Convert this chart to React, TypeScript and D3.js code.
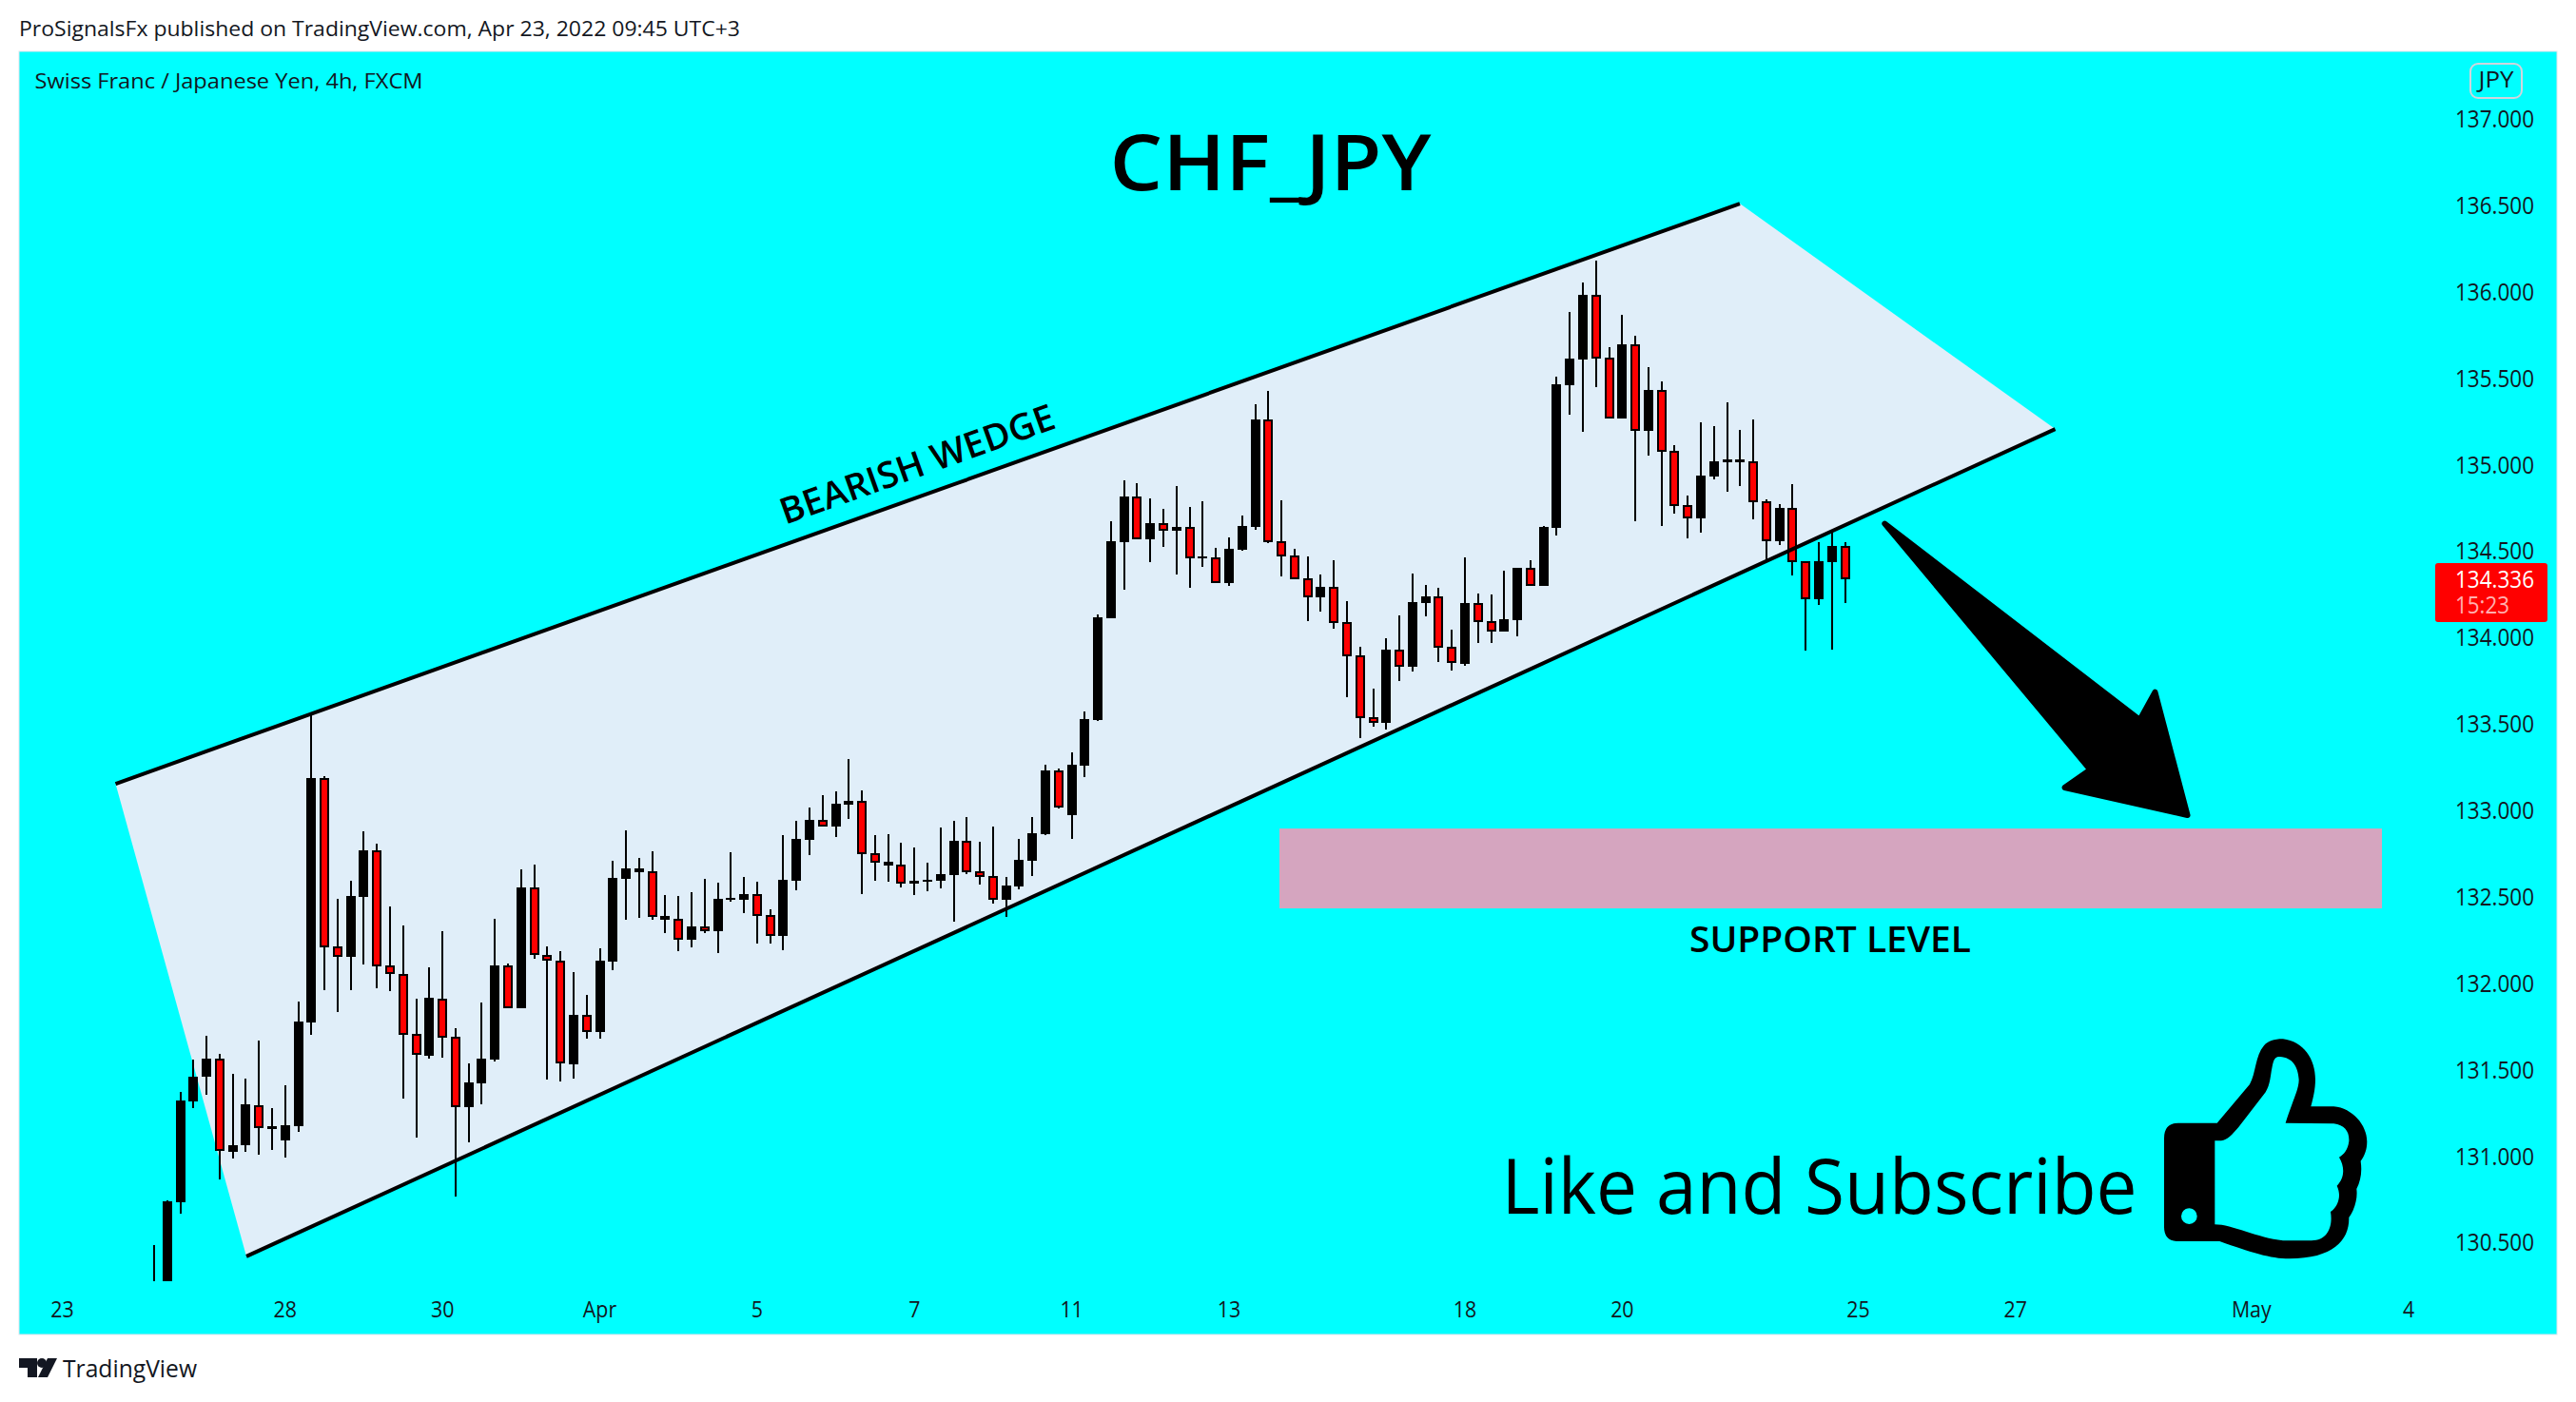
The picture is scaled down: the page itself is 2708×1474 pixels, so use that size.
import React from "react";
import * as d3 from "d3";

const W = 2708, H = 1474;
const opens = [130.05,130.2,130.734,131.319,131.457,131.562,131.025,131.061,131.297,131.159,131.09,131.173,131.772,133.185,132.211,132.151,132.5,132.767,132.101,132.056,131.705,131.581,131.913,131.689,131.283,131.421,131.557,132.101,131.856,132.552,132.161,132.132,131.531,131.815,131.717,132.125,132.603,132.642,132.647,132.367,132.372,132.251,132.328,132.301,132.481,132.482,132.515,132.394,132.273,132.592,132.829,132.945,132.906,133.033,133.055,132.752,132.68,132.686,132.576,132.587,132.592,132.625,132.824,132.647,132.62,132.482,132.559,132.708,132.862,133.231,132.972,133.258,133.523,134.111,134.552,134.816,134.568,134.662,134.618,134.64,134.456,134.464,134.315,134.508,134.64,135.261,134.557,134.475,134.343,134.233,134.293,134.089,133.897,133.539,133.506,133.93,133.831,134.199,134.238,133.946,133.847,134.199,134.095,134.034,134.1,134.403,134.298,134.634,135.459,135.608,135.982,135.619,135.267,135.696,135.195,135.432,135.08,134.766,134.689,134.931,135.014,135.014,135.019,134.788,134.557,134.749,134.441,134.221,134.436,134.529];
const highs = [130.484,130.746,131.371,131.557,131.696,131.591,131.476,131.448,131.667,131.278,131.409,131.894,133.569,133.199,132.488,132.593,132.879,132.808,132.445,132.333,131.91,132.092,132.302,131.739,131.536,131.889,132.373,132.113,132.66,132.686,132.214,132.185,132.066,131.932,132.202,132.707,132.884,132.724,132.763,132.51,132.504,132.526,132.603,132.581,132.758,132.614,132.587,132.427,132.857,132.939,133.016,133.088,133.11,133.297,133.115,132.857,132.862,132.813,132.785,132.697,132.901,132.939,132.961,132.818,132.906,132.614,132.835,132.961,133.264,133.242,133.335,133.572,134.133,134.673,134.909,134.893,134.805,134.744,134.876,134.755,134.788,134.519,134.579,134.706,135.349,135.426,134.794,134.513,134.469,134.365,134.447,134.211,133.946,133.704,133.996,134.128,134.37,134.304,134.288,134.045,134.464,134.254,134.249,134.387,134.403,134.447,134.645,135.509,135.883,136.053,136.18,135.679,135.866,135.745,135.564,135.481,135.113,134.821,135.245,135.223,135.36,135.201,135.261,134.799,134.771,134.887,134.441,134.551,134.606,134.551];
const lows = [130,130.1,130.667,131.278,131.355,130.865,130.987,131.025,131.009,131.035,130.992,131.14,131.7,131.961,131.834,131.961,132.109,131.97,131.953,131.333,131.106,131.565,131.569,130.765,131.08,131.3,131.548,131.858,131.856,132.142,131.445,131.431,131.448,131.679,131.679,132.075,132.367,132.378,132.367,132.29,132.185,132.207,132.29,132.174,132.471,132.405,132.229,132.229,132.191,132.537,132.741,132.906,132.846,132.95,132.515,132.592,132.587,132.554,132.51,132.532,132.548,132.356,132.631,132.57,132.46,132.383,132.543,132.62,132.857,133.011,132.835,133.192,133.517,134.111,134.277,134.568,134.436,134.524,134.365,134.288,134.409,134.315,134.299,134.502,134.623,134.546,134.354,134.337,134.095,134.15,134.051,133.655,133.418,133.484,133.468,133.748,133.803,134.122,133.858,133.809,133.836,133.968,133.968,134.034,134.007,134.298,134.298,134.59,135.289,135.19,135.448,135.267,135.267,134.672,135.052,134.645,134.716,134.573,134.606,134.914,134.843,134.876,134.683,134.447,134.535,134.359,133.924,134.188,133.93,134.199];
const closes = [130.2,130.739,131.321,131.46,131.565,131.028,131.063,131.3,131.164,131.171,131.178,131.779,133.187,132.209,132.154,132.505,132.769,132.099,132.056,131.703,131.584,131.915,131.686,131.285,131.426,131.565,132.104,131.858,132.555,132.161,132.132,131.534,131.817,131.72,132.13,132.61,132.664,132.664,132.383,132.389,132.251,132.328,132.301,132.488,132.493,132.515,132.389,132.273,132.598,132.835,132.945,132.906,133.038,133.055,132.747,132.697,132.702,132.576,132.592,132.598,132.631,132.824,132.642,132.614,132.482,132.565,132.714,132.868,133.231,133.016,133.264,133.528,134.117,134.557,134.816,134.568,134.662,134.618,134.64,134.458,134.467,134.315,134.513,134.645,135.261,134.552,134.469,134.337,134.233,134.293,134.084,133.891,133.534,133.506,133.93,133.831,134.205,134.238,133.941,133.853,134.199,134.089,134.034,134.106,134.403,134.298,134.639,135.465,135.613,135.982,135.613,135.267,135.696,135.195,135.432,135.074,134.76,134.689,134.936,135.019,135.03,135.03,134.782,134.557,134.749,134.436,134.221,134.441,134.529,134.336];

const priceTicks = [137,136.5,136,135.5,135,134.5,134,133.5,133,132.5,132,131.5,131,130.5];
const dateTicks: [number,string][] = [[-7,"23"],[10,"28"],[22,"30"],[34,"Apr"],[46,"5"],[58,"7"],[70,"11"],[82,"13"],[100,"18"],[112,"20"],[130,"25"],[142,"27"],[160,"May"],[172,"4"]];
const wedge: [number,number][] = [[-2.94,133.154],[120.97,136.51],[145.03,135.206],[7.04,130.42]];
const supportBars = [85.85,169.96];
const supportPrices = [132.895,132.433];
const arrowPoints: [number,number][] = [[132.03,134.658],[151.49,133.524],[152.65,133.684],[155.12,132.972],[145.76,133.132],[147.71,133.235]];
const lastPrice = 134.336;

const x = d3.scaleLinear().domain([0,129]).range([162,1939.6]);
const y = d3.scaleLinear().domain([137,133]).range([125,852]);
const FONT = "'Open Sans', Lato, sans-serif";
const INK = "#131722";

const THUMB = "M150 362L272 362L375 240C395 205 392 150 420 118C432 104 450 97 480 97C545 105 582 160 582 225C582 255 575 285 568 310L640 310C700 315 745 370 745 420C745 445 738 465 725 482C730 515 725 545 712 570C716 600 706 635 688 660C690 730 640 790 500 790C440 790 380 770 280 735L150 735Q105 735 105 690L105 410Q105 362 150 362Z M265 418L285 418C305 415 320 398 340 375L425 265C440 240 440 215 445 190C450 160 455 153 470 153C510 155 528 185 530 225C530 255 515 280 488 362L640 364C675 368 690 390 688 420C685 445 672 462 657 470C675 500 675 535 650 560C665 590 655 625 630 642C638 690 620 733 570 733L480 733C400 725 320 682 265 682Z M159 656A25 25 0 1 0 209 656A25 25 0 1 0 159 656Z";

function Label({tx,ty,len,size,children,fill=INK,weight=400,anchor="start",transform}:{tx:number;ty:number;len?:number;size:number;children:React.ReactNode;fill?:string;weight?:number;anchor?:string;transform?:string}){
  return <text x={tx} y={ty} fontFamily={FONT} fontSize={size} fill={fill} fontWeight={weight} textAnchor={anchor} textLength={len} lengthAdjust={len?"spacingAndGlyphs":undefined} transform={transform}>{children}</text>;
}

export default function App(){
  const wedgePts = wedge.map(([b,p])=>[x(b),y(p)]);
  const poly = d3.line()(wedgePts as [number,number][])+"Z";
  const topLine = d3.line()([wedgePts[0],wedgePts[1]] as [number,number][])!;
  const botLine = d3.line()([wedgePts[3],wedgePts[2]] as [number,number][])!;
  const arrow = d3.line()(arrowPoints.map(([b,p])=>[x(b),y(p)]) as [number,number][])+"Z";
  const angle = Math.atan2(wedgePts[1][1]-wedgePts[0][1],wedgePts[1][0]-wedgePts[0][0])*180/Math.PI;
  return (
    <svg width={W} height={H} viewBox={`0 0 ${W} ${H}`} style={{position:"absolute",left:0,top:0,background:"#fff"}}>
      <defs><clipPath id="pane"><rect x={20} y={54} width={2560} height={1293}/></clipPath></defs>
      <Label tx={20} ty={38} size={22.5} len={758}>ProSignalsFx published on TradingView.com, Apr 23, 2022 09:45 UTC+3</Label>
      <rect x={20} y={54} width={2668} height={1349} fill="#00ffff" stroke="#e0e3eb" strokeWidth={1}/>
      <Label tx={36.5} ty={93} size={22.5} len={408}>Swiss Franc / Japanese Yen, 4h, FXCM</Label>

      <path d={poly} fill="#e0eef9"/>
      <rect x={x(supportBars[0])} y={y(supportPrices[0])} width={x(supportBars[1])-x(supportBars[0])} height={y(supportPrices[1])-y(supportPrices[0])} fill="#d5a5bf"/>

      <g clipPath="url(#pane)" shapeRendering="crispEdges">
        {opens.map((o,i)=>{
          const cx=Math.round(x(i));
          const top=Math.round(y(Math.max(o,closes[i])));
          const bot=Math.max(top+2,Math.round(y(Math.min(o,closes[i]))));
          const isRed=closes[i]<o;
          return <g key={i}>
            <rect x={cx-1} y={y(highs[i])} width={2} height={y(lows[i])-y(highs[i])} fill="#000"/>
            <rect x={cx-5} y={top} width={10} height={bot-top} fill="#000"/>
            {isRed && bot-top>4 && <rect x={cx-3} y={top+2} width={6} height={bot-top-4} fill="#f00"/>}
          </g>;
        })}
      </g>
      <path d={topLine} stroke="#000" strokeWidth={4} fill="none"/>
      <path d={botLine} stroke="#000" strokeWidth={4} fill="none"/>
      <path d={arrow} fill="#000" stroke="#000" strokeWidth={6} strokeLinejoin="round"/>

      <Label tx={1335.5} ty={200} size={81} len={338} anchor="middle" fill="#000" weight={600}>CHF_JPY</Label>
      <Label tx={964} ty={501.5} size={38} len={304} anchor="middle" fill="#000" weight={600} transform={`rotate(${angle} 964 488)`}>BEARISH WEDGE</Label>
      <Label tx={1924} ty={1001} size={38} len={296} anchor="middle" fill="#000" weight={600}>SUPPORT LEVEL</Label>
      <Label tx={1912.5} ty={1276} size={80} len={668} anchor="middle" fill="#000">Like and Subscribe</Label>
      <path d={THUMB} transform="translate(2240 1060) scale(0.3333)" fill="#000" fillRule="evenodd"/>

      {priceTicks.map(p=><Label key={p} tx={2581} ty={y(p)+9} size={25} len={83}>{p.toFixed(3)}</Label>)}
      {dateTicks.map(([b,t])=><Label key={t} tx={0} ty={0} size={24} anchor="middle" transform={`translate(${x(b)} 1385) scale(0.89 1)`}>{t}</Label>)}

      <rect x={2597} y={67} width={54} height={36} rx={8} fill="none" stroke="#d1d4dc" strokeWidth={2}/>
      <Label tx={2624} ty={92} size={24} len={37} anchor="middle">JPY</Label>

      <rect x={2560} y={592} width={118} height={62} rx={3} fill="#f00"/>
      <text fontFamily={FONT} fontSize={25} fill="#fff">
        <tspan x={2581} y={y(lastPrice)+9} textLength={83} lengthAdjust="spacingAndGlyphs">{lastPrice.toFixed(3)}</tspan>
        <tspan x={2581} y={645} textLength={57} lengthAdjust="spacingAndGlyphs" fillOpacity={0.7}>15:23</tspan>
      </text>

      <path d="M20 1428H39V1448H29V1438H20Z" fill={INK}/>
      <circle cx={44} cy={1433} r={5} fill={INK}/>
      <path d="M50 1428H60L50 1448H40Z" fill={INK}/>
      <Label tx={66} ty={1448} size={25} len={141}>TradingView</Label>
    </svg>
  );
}
